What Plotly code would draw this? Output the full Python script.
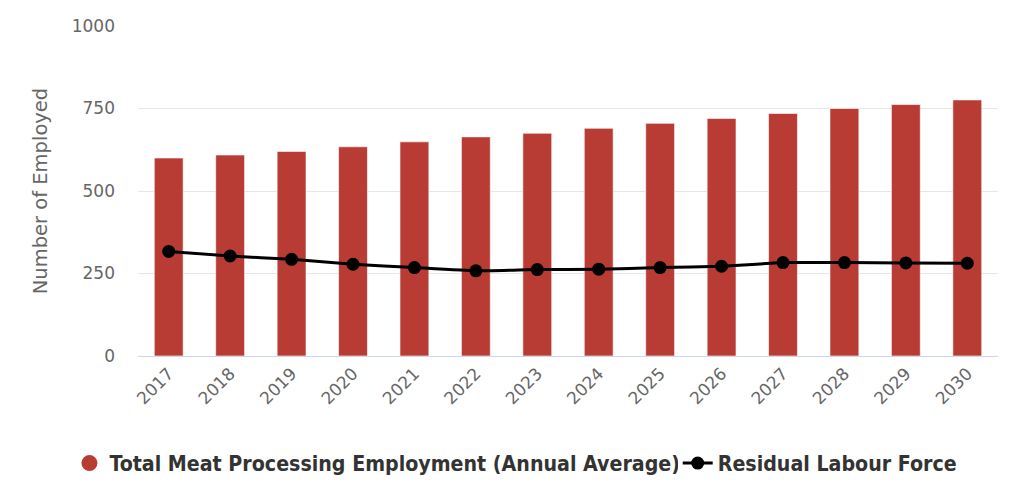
import plotly.graph_objects as go

years = ["2017", "2018", "2019", "2020", "2021", "2022", "2023",
         "2024", "2025", "2026", "2027", "2028", "2029", "2030"]
employment = [600, 609, 620, 634, 649, 664, 675, 690, 705, 720, 735, 750, 762, 776]
residual = [317, 303, 293, 278, 268, 258, 262, 263, 268, 272, 283, 283, 282, 281]

bar_color = "#b83c34"
fig = go.Figure()
fig.add_trace(go.Bar(
    x=years, y=employment, name="Total Meat Processing Employment (Annual Average)",
    marker=dict(color=bar_color, line=dict(color="rgba(255,255,255,0.6)", width=1)),
    width=0.47, showlegend=False,
))
# legend entry with circle symbol
fig.add_trace(go.Scatter(
    x=[None], y=[None], mode="markers", name="Total Meat Processing Employment (Annual Average)",
    marker=dict(color=bar_color, size=18, symbol="circle"), legend="legend",
))
fig.add_trace(go.Scatter(
    x=years, y=residual, name="Residual Labour Force", mode="lines+markers",
    line=dict(color="black", width=3, shape="spline", smoothing=0.3),
    marker=dict(color="black", size=13), legend="legend2",
))

legend_font = dict(family="DejaVu Sans Condensed", size=21.2, color="#333333", weight="bold")
fig.update_layout(
    width=1024, height=497,
    margin=dict(l=130, r=34, t=18, b=149, autoexpand=False),
    plot_bgcolor="white", paper_bgcolor="white",
    font=dict(family="DejaVu Sans", color="#666666"),
    bargap=0.53,
    legend=dict(
        orientation="h", xref="container", yref="container",
        x=0.060, xanchor="left", y=0.084, yanchor="middle",
        font=legend_font, itemwidth=30,
    ),
    legend2=dict(
        orientation="h", xref="container", yref="container",
        x=0.654, xanchor="left", y=0.084, yanchor="middle",
        font=legend_font, itemwidth=30,
    ),
    xaxis=dict(
        type="category", range=[-0.5, 13.5], tickangle=-45,
        tickfont=dict(size=17, color="#666666"),
        showline=True, linecolor="#ccd6eb", linewidth=1, showgrid=False, ticks="",
        automargin=False,
    ),
    yaxis=dict(
        range=[0, 1000], tickvals=[0, 250, 500, 750, 1000],
        tickfont=dict(size=17, color="#666666"),
        gridcolor="#e6e6e6", gridwidth=1, zeroline=False,
        title=dict(text="Number of Employed", font=dict(size=19.5, color="#666666"), standoff=18),
        ticklabelstandoff=22, automargin=False,
    ),
)

fig.write_html("out.html")
